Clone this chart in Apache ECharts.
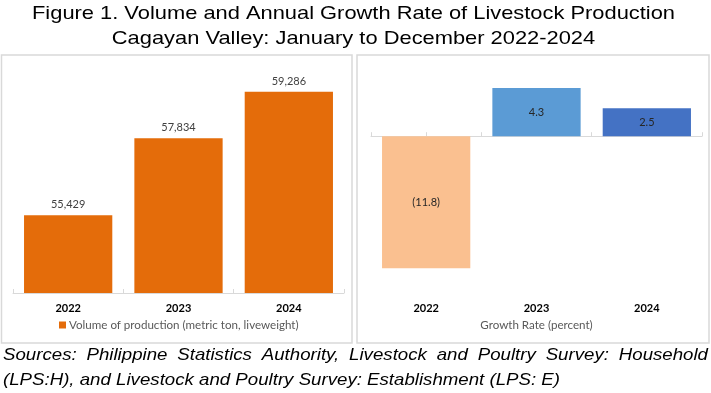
<!DOCTYPE html>
<html><head><meta charset="utf-8">
<script src="https://cdn.jsdelivr.net/npm/echarts@6/dist/echarts.min.js"></script>
<style>html,body{margin:0;padding:0;background:#fff}#c{width:711px;height:393px}</style>
</head><body><div id="c"></div>
<script>
const categories = ['2022', '2023', '2024'];
const volume = [55429, 57834, 59286];
const growth = [-11.8, 4.3, 2.5];
const growthColors = ['#FAC090', '#5B9BD5', '#4472C4'];
const volumeName = 'Volume of production (metric ton, liveweight)';
const growthName = 'Growth Rate (percent)';
const titleLines = ['Figure 1. Volume and Annual Growth Rate of Livestock Production', 'Cagayan Valley: January to December 2022-2024'];
const sourceLines = ['Sources: Philippine Statistics Authority, Livestock and Poultry Survey: Household', '(LPS:H), and Livestock and Poultry Survey: Establishment (LPS: E)'];

const mctx = document.createElement('canvas').getContext('2d');
function measure(text, font) { mctx.font = font; return mctx.measureText(text).width; }

const FONT = 'Lato';
const titleFont = '19px "Liberation Sans"';
const srcFont = 'italic 17px "Liberation Sans"';
const ts = 643 / measure(titleLines[0], titleFont);
const ss = 557 / measure(sourceLines[1], srcFont);

function txt(text, x, y, font, align, scale, fill) {
  return { type: 'text', x: x, y: y, scaleX: scale, silent: true,
    style: { text: text, font: font, fill: fill || '#000', textAlign: align, align: align, textVerticalAlign: 'middle', verticalAlign: 'middle' } };
}
const graphics = [];
graphics.push({ type: 'rect', shape: { x: 1.5, y: 55, width: 350.5, height: 288 }, style: { fill: 'none', stroke: '#D9D9D9', lineWidth: 1.5 }, silent: true });
graphics.push({ type: 'rect', shape: { x: 357, y: 55, width: 352, height: 288 }, style: { fill: 'none', stroke: '#D9D9D9', lineWidth: 1.5 }, silent: true });
graphics.push(txt(titleLines[0], 353.5, 14, titleFont, 'center', ts));
graphics.push(txt(titleLines[1], 353.5, 38.5, titleFont, 'center', ts));
// justified first source line
const words = sourceLines[0].split(' ');
const widths = words.map(w => measure(w, srcFont) * ss);
const total = widths.reduce((a, b) => a + b, 0);
const gap = (705 - total) / (words.length - 1);
let cx = 3;
words.forEach((w, i) => { graphics.push(txt(w, cx, 355, srcFont, 'left', ss)); cx += widths[i] + gap; });
graphics.push(txt(sourceLines[1], 3, 380, srcFont, 'left', ss));

const tickAxis = (grid) => ({
  type: 'value', gridIndex: grid, min: 0, max: 6, interval: 1, position: 'bottom',
  axisLine: { show: true, lineStyle: { color: '#D9D9D9', width: 1 } },
  axisTick: { show: true, inside: true, length: 4, lineStyle: { color: '#D9D9D9' } },
  axisLabel: { show: false }, splitLine: { show: false }
});

const option = {
  animation: false,
  backgroundColor: '#fff',
  grid: [
    { left: 13, right: 367, top: 69, height: 224 },
    { left: 371, right: 9, top: 69, height: 224 }
  ],
  legend: {
    data: [volumeName], left: 59, top: 319, padding: 0, icon: 'rect', itemWidth: 7, itemHeight: 7,
    textStyle: { fontFamily: FONT, fontSize: 11.6, color: '#595959', padding: [0, 0, 0, -2] }
  },
  xAxis: [
    { type: 'category', gridIndex: 0, data: categories, axisLine: { show: false, onZero: false }, axisTick: { show: false },
      axisLabel: { margin: 10, fontFamily: FONT, fontSize: 11, fontWeight: 'bold', color: '#000' } },
    tickAxis(0),
    { type: 'category', gridIndex: 1, data: categories, axisLine: { show: false, onZero: false }, axisTick: { show: false },
      axisLabel: { margin: 10, fontFamily: FONT, fontSize: 11, fontWeight: 'bold', color: '#000' },
      name: growthName, nameLocation: 'middle', nameGap: 26,
      nameTextStyle: { fontFamily: FONT, fontSize: 11.6, color: '#595959' } },
    Object.assign(tickAxis(1), { axisLine: { show: true, onZero: true, lineStyle: { color: '#D9D9D9', width: 1 } } })
  ],
  yAxis: [
    { type: 'value', gridIndex: 0, min: 53000, max: 60000, show: false },
    { type: 'value', gridIndex: 1, min: -14, max: 6, show: false }
  ],
  series: [
    { type: 'bar', name: volumeName, xAxisIndex: 0, yAxisIndex: 0, data: volume, barCategoryGap: '20%',
      itemStyle: { color: '#E46C0A' },
      label: { show: true, position: 'top', distance: 5, fontFamily: FONT, fontSize: 11, color: '#404040',
        formatter: p => p.value.toLocaleString('en-US') } },
    { type: 'bar', name: growthName, xAxisIndex: 2, yAxisIndex: 1, barCategoryGap: '20%',
      data: growth.map((v, i) => ({ value: v, itemStyle: { color: growthColors[i] } })),
      label: { show: true, position: 'inside', fontFamily: FONT, fontSize: 11, color: '#262626',
        formatter: p => p.value < 0 ? '(' + Math.abs(p.value).toFixed(1) + ')' : p.value.toFixed(1) } }
  ],
  graphic: graphics
};
const chart = echarts.init(document.getElementById('c'), null, { renderer: 'canvas' });
chart.setOption(option);
</script></body></html>
